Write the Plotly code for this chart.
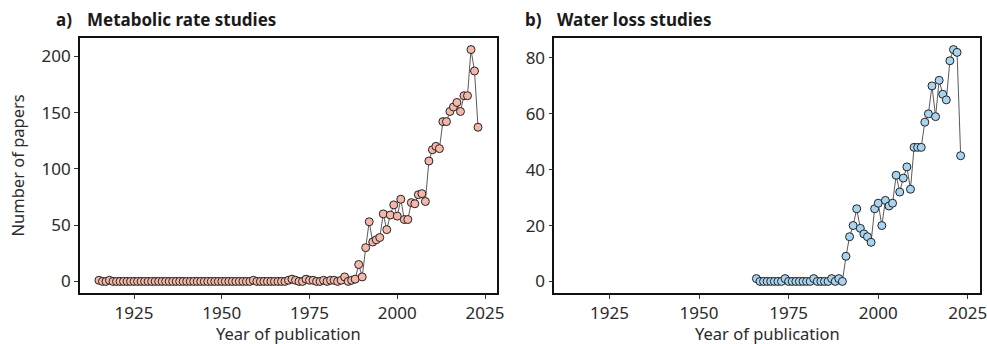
import plotly.graph_objects as go

# ---- data ----
met_years = list(range(1915, 2024))
met_counts = (
    [1, 0, 0, 1, 0, 0, 0, 0, 0, 0,          # 1915-1924
     0, 0, 0, 0, 0, 0, 0, 0, 0, 0,          # 1925-1934
     0, 0, 0, 0, 0, 0, 0, 0, 0, 0,          # 1935-1944
     0, 0, 0, 0, 0, 0, 0, 0, 0, 0,          # 1945-1954
     0, 0, 0, 0, 1, 0, 0, 0, 0, 0,          # 1955-1964
     0, 0, 0, 0, 1, 2, 1, 0, 0, 2,          # 1965-1974
     1, 1, 0, 0, 1, 0, 1, 1, 0, 1,          # 1975-1984
     4, 0, 1, 2, 15, 4, 30, 53, 35, 37,     # 1985-1994
     39, 60, 46, 59, 68, 58, 73, 55, 55, 70,  # 1995-2004
     69, 77, 78, 71, 107, 117, 120, 118, 142, 142,  # 2005-2014
     151, 155, 159, 151, 165, 165, 206, 187, 137]   # 2015-2023
)

wat_years = list(range(1966, 2024))
wat_counts = (
    [1, 0, 0, 0, 0, 0, 0, 0, 1, 0,          # 1966-1975
     0, 0, 0, 0, 0, 0, 1, 0, 0, 0,          # 1976-1985
     0, 1, 0, 1, 0, 9, 16, 20, 26, 19,      # 1986-1995
     17, 16, 14, 26, 28, 20, 29, 27, 28, 38,  # 1996-2005
     32, 37, 41, 33, 48, 48, 48, 57, 60, 70,  # 2006-2015
     59, 72, 67, 65, 79, 83, 82, 45]          # 2016-2023
)

x_ticks = [1925, 1950, 1975, 2000, 2025]
met_y_ticks = [0, 50, 100, 150, 200]
wat_y_ticks = [0, 20, 40, 60, 80]

FONT = "Noto Sans"
TICKFONT = dict(family=FONT, size=17, color="#2a2a2a")

fig = go.Figure()

fig.add_trace(go.Scatter(
    x=met_years, y=met_counts, mode="lines+markers",
    line=dict(color="#5a5a5a", width=1),
    marker=dict(size=8, color="#F5B7AA", line=dict(color="#222222", width=1)),
    xaxis="x", yaxis="y", showlegend=False))

fig.add_trace(go.Scatter(
    x=wat_years, y=wat_counts, mode="lines+markers",
    line=dict(color="#5a5a5a", width=1),
    marker=dict(size=8, color="#A8D4F0", line=dict(color="#222222", width=1)),
    xaxis="x2", yaxis="y2", showlegend=False))

common_axis = dict(showline=True, mirror=True, linecolor="#111111", linewidth=1.6,
                   ticks="outside", ticklen=4, tickcolor="#333333", tickwidth=1.2,
                   showgrid=False, zeroline=False, tickfont=TICKFONT,
                   automargin=False, ticklabeloverflow="allow")

xr = [1909.6, 2028.4]
fig.update_layout(
    width=987, height=344,
    margin=dict(l=80, r=7, t=38, b=51),
    paper_bgcolor="white", plot_bgcolor="white",
    font=dict(family=FONT, color="#2a2a2a"),
    xaxis=dict(domain=[0, 0.4633], range=xr, tickvals=x_ticks, anchor="y", **common_axis),
    yaxis=dict(domain=[0, 1], range=[-10.3, 216.3], tickvals=met_y_ticks, anchor="x", **common_axis),
    xaxis2=dict(domain=[0.527, 1.0], range=xr, tickvals=x_ticks, anchor="y2", **common_axis),
    yaxis2=dict(domain=[0, 1], range=[-4.15, 87.15], tickvals=wat_y_ticks, anchor="x2", **common_axis),
)

title_font = dict(family=FONT, size=17, color="#1a1a1a")
for xp, txt in [(-0.0289, "<b>a)</b>"), (0.0056, "<b>Metabolic rate studies</b>"),
                (0.4922, "<b>b)</b>"), (0.5278, "<b>Water loss studies</b>")]:
    fig.add_annotation(x=xp, y=1.0718, xref="paper", yref="paper", text=txt,
                       showarrow=False, xanchor="left", yanchor="middle", font=title_font)

axis_title_font = dict(family=FONT, size=16.5, color="#2a2a2a")
for xc in [0.4633 / 2, (0.527 + 1.0) / 2]:
    fig.add_annotation(x=xc, y=-0.1575, xref="paper", yref="paper", text="Year of publication",
                       showarrow=False, xanchor="center", yanchor="middle", font=axis_title_font,
                       borderpad=0)
fig.add_annotation(x=-0.0689, y=0.5, xref="paper", yref="paper", text="Number of papers",
                   textangle=-90, showarrow=False, xanchor="center", yanchor="middle",
                   font=axis_title_font)

fig.write_html("out.html", config={"displayModeBar": False},
               post_script="document.body.style.margin='0';document.body.style.overflow='hidden';")
